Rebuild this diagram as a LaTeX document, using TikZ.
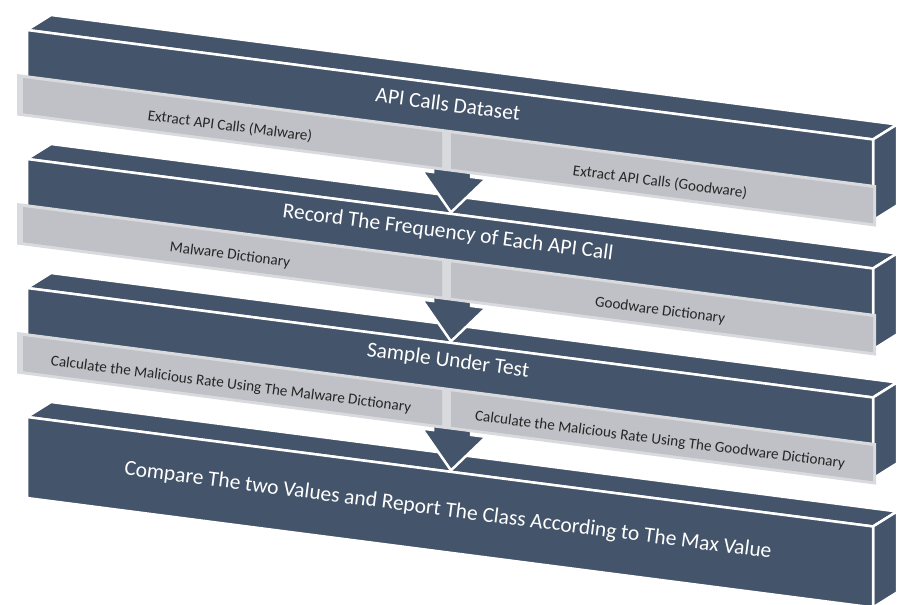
\documentclass[tikz,border=0pt]{standalone}
\usepackage{fontspec}
\setmainfont{Carlito}
\definecolor{slate}{HTML}{44546A}
\definecolor{bandfill}{HTML}{BFC1C6}
\definecolor{bandedge}{HTML}{D8DADD}
\definecolor{bandtext}{HTML}{262626}
\tikzset{
  face/.style={fill=slate, draw=white, line width=2.5pt, line join=round},
  arrowshape/.style={fill=slate, draw=white, line width=2.5pt, line join=miter},
  bigtext/.style={text=white, font=\fontsize{21.5}{24}\selectfont, rotate=-7.37, inner sep=0pt},
  smalltext/.style={text=bandtext, font=\fontsize{15.2}{18}\selectfont, rotate=-7.37, inner sep=0pt},
}
\newcommand\bandpart[3]{%
  \fill[bandedge] (#1,71.8+#3) -- (#2,71.8+#3) -- (#2,113.3+#3) -- (#1,113.3+#3) -- cycle;
  \fill[bandfill] (#1+6,75+#3) -- (#2-3,75+#3) -- (#2-3,110.3+#3) -- (#1+6,110.3+#3) -- cycle;
}
\begin{document}
\begin{tikzpicture}[x={(1pt,-0.1294pt)}, y={(0pt,-1pt)}]
\useasboundingbox (0pt,0pt) rectangle (898pt,-605pt);
\clip (0pt,0pt) rectangle (898pt,-605pt);
% slabs
\foreach \d in {0,129,258,387} {
  \draw[face] (27,26.5+\d) -- (51,8.4+\d) -- (897,8.4+\d) -- (873,26.5+\d) -- cycle;
  \draw[face] (873,26.5+\d) -- (897,8.4+\d) -- (897,89.4+\d) -- (873,107.5+\d) -- cycle;
  \draw[face] (27,26.5+\d) -- (873,26.5+\d) -- (873,107.5+\d) -- (27,107.5+\d) -- cycle;
}
% arrows
\foreach \d in {0,129,258} {
  \draw[arrowshape] (433,95+\d) -- (433,116+\d) -- (422,116+\d) -- (451,154+\d)
     -- (486,116+\d) -- (471,116+\d) -- (471,95+\d) -- cycle;
}
% bands
\foreach \d in {0,129,258} {
  \bandpart{17}{445}{\d}
  \bandpart{445}{876}{\d}
}
% texts
\node[bigtext] (s1) at (448,46) {API Calls Dataset};
\node[bigtext] (s2) at (448,46+129) {Record The Frequency of Each API Call};
\node[bigtext] (s3) at (448,45+258) {Sample Under Test};
\node[bigtext] (s4) at (448,66+387) {Compare The two Values and Report The Class According to The Max Value};
\node[smalltext] (b1l) at (230,96.5) {Extract API Calls (Malware)};
\node[smalltext] (b1r) at (660,96.5) {Extract API Calls (Goodware)};
\node[smalltext] (b2l) at (230,96.5+129) {Malware Dictionary};
\node[smalltext] (b2r) at (660,96.5+129) {Goodware Dictionary};
\node[smalltext] (b3l) at (231,97+258) {Calculate the Malicious Rate Using The Malware Dictionary};
\node[smalltext] (b3r) at (660,97+258) {Calculate the Malicious Rate Using The Goodware Dictionary};
\end{tikzpicture}
\end{document}
